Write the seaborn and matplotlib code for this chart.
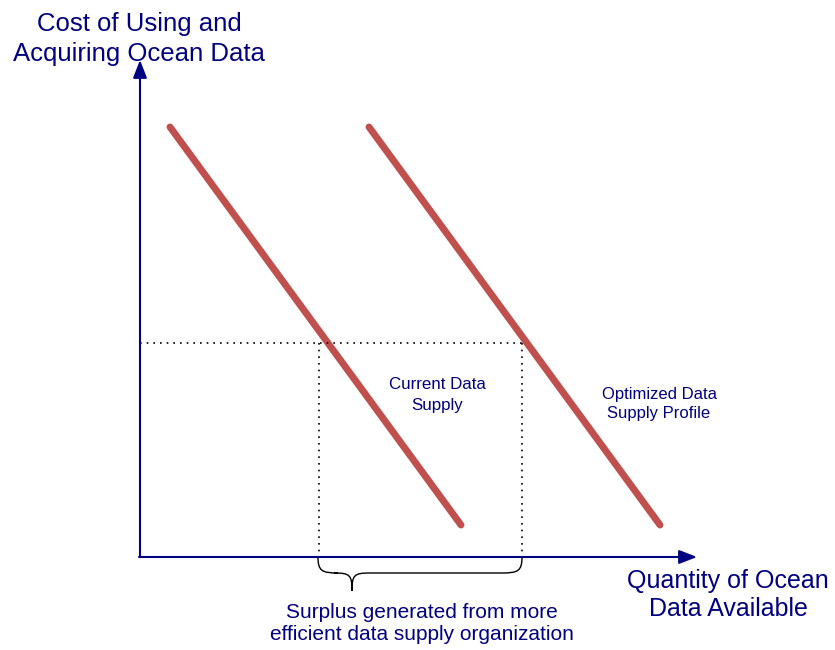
import matplotlib
matplotlib.use("Agg")
import matplotlib.pyplot as plt
import seaborn as sns
import pandas as pd
from matplotlib.path import Path
from matplotlib.patches import PathPatch

# ---- data (units: quantity on x, cost on y; origin at axis corner) ----
curve_names = ["Current Data Supply", "Optimized Data Supply Profile"]
current_qty = [30, 321]
current_cost = [430, 32]
optimized_qty = [229, 520]
optimized_cost = [430, 32]
equilibrium_cost = 214
current_eq_qty = 179
optimized_eq_qty = 382

y_title = "Cost of Using and\nAcquiring Ocean Data"
x_title = "Quantity of Ocean\nData Available"
surplus_text = "Surplus generated from more\nefficient data supply organization"
label_current = "Current Data\nSupply"
label_optimized = "Optimized Data\nSupply Profile"

NAVY = "#000080"
RED = "#C0504D"

df = pd.DataFrame({
    "qty": current_qty + optimized_qty,
    "cost": current_cost + optimized_cost,
    "curve": [curve_names[0]] * 2 + [curve_names[1]] * 2,
})

sns.set_theme(style="white")
plt.rcParams["font.family"] = ["Liberation Sans", "DejaVu Sans"]

fig = plt.figure(figsize=(8.35, 6.5), dpi=100)
ax = fig.add_axes([0, 0, 1, 1])
ax.set_xlim(-140, 695)
ax.set_ylim(-93, 557)
ax.axis("off")

sns.lineplot(data=df, x="qty", y="cost", hue="curve", units="curve", estimator=None,
             palette=[RED, RED], linewidth=5, legend=False, ax=ax, sort=False,
             solid_capstyle="round")

# axes with arrows
ax.annotate("", xy=(0, 497), xytext=(0, 0),
            arrowprops=dict(arrowstyle="-|>,head_length=0.9,head_width=0.35", color=NAVY, lw=1.5,
                            shrinkA=0, shrinkB=0))
ax.annotate("", xy=(557, 0), xytext=(-1, 0),
            arrowprops=dict(arrowstyle="-|>,head_length=0.9,head_width=0.35", color=NAVY, lw=1.5,
                            shrinkA=0, shrinkB=0))

# dotted guides
dot = dict(color="black", linestyle=(0, (1, 3)), linewidth=1.2)
ax.plot([0, optimized_eq_qty + 3], [equilibrium_cost, equilibrium_cost], **dot)
ax.plot([current_eq_qty, current_eq_qty], [equilibrium_cost, 0], **dot)
ax.plot([optimized_eq_qty, optimized_eq_qty], [equilibrium_cost, 0], **dot)

# brace
L, R, tip = current_eq_qty - 1, optimized_eq_qty, 212
yh, yt = -16, -34
verts = [
    (L, 0), (L, yh + 2), (L + 4, yh), (L + 20, yh),
    (tip - 18, yh),
    (tip - 2, yh), (tip, yh - 2), (tip, yt),
    (tip, yh - 2), (tip + 2, yh), (tip + 18, yh),
    (R - 20, yh),
    (R - 4, yh), (R, yh + 2), (R, 0),
]
codes = [Path.MOVETO, Path.CURVE4, Path.CURVE4, Path.CURVE4,
         Path.LINETO,
         Path.CURVE4, Path.CURVE4, Path.CURVE4,
         Path.CURVE4, Path.CURVE4, Path.CURVE4,
         Path.LINETO,
         Path.CURVE4, Path.CURVE4, Path.CURVE4]
ax.add_patch(PathPatch(Path(verts, codes), facecolor="none", edgecolor="black", lw=1.0))

# texts
ax.text(-1, 518, y_title, color=NAVY, fontsize=18.5, ha="center", va="center",
        linespacing=1.3)
ax.text(588, -38, x_title, color=NAVY, fontsize=18, ha="center", va="center",
        linespacing=1.23)
ax.text(282, -67, surplus_text, color=NAVY, fontsize=15, ha="center", va="center",
        linespacing=1.2)
ax.text(297, 162, label_current, color=NAVY, fontsize=12.2, ha="center", va="center",
        linespacing=1.45)
ax.text(519, 153, label_optimized, color=NAVY, fontsize=12, ha="center", va="center",
        linespacing=1.27)

fig.savefig("out.png", dpi=100)
